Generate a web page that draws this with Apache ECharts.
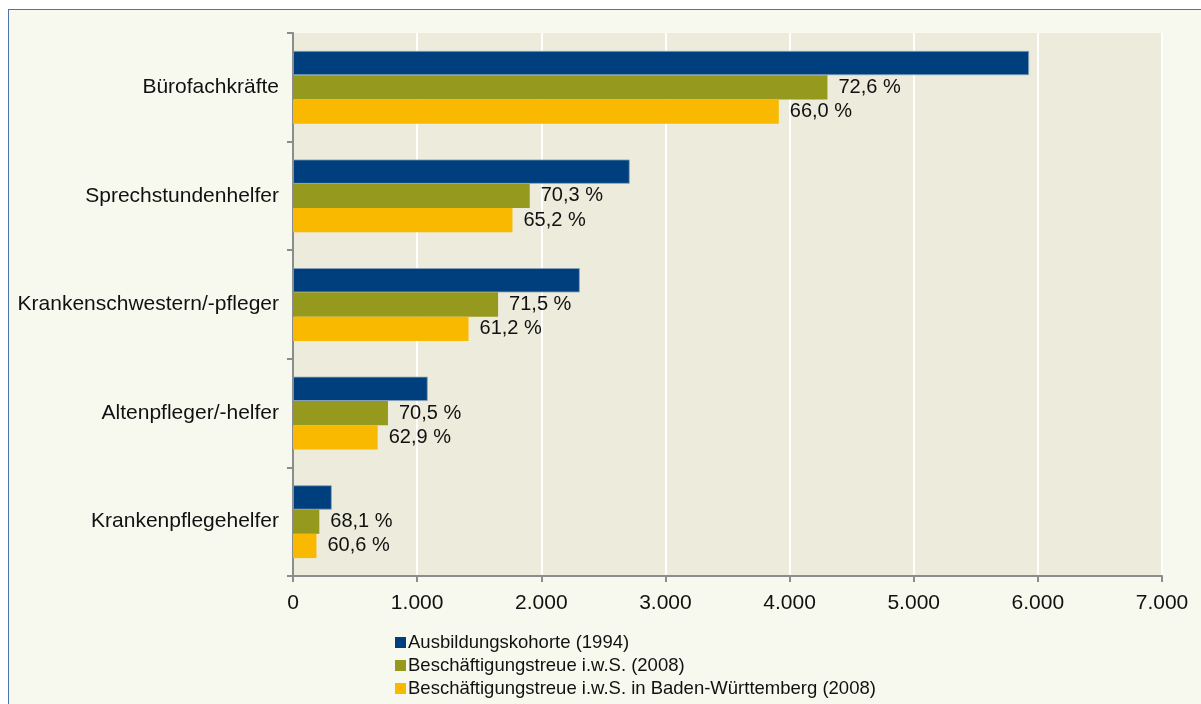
<!DOCTYPE html>
<html><head><meta charset="utf-8">
<script src="https://cdn.jsdelivr.net/npm/echarts@6/dist/echarts.min.js"></script>
<style>
html,body{margin:0;padding:0;background:#fff;}
#frame{position:absolute;left:8px;top:9px;width:1200px;height:700px;border:1px solid #4f72ad;background:#f8f9ee;box-sizing:border-box;}
#c{position:absolute;left:0;top:0;width:1201px;height:704px;}
</style></head>
<body>
<div id="frame"></div>
<div id="c"></div>
<script>
const categories = ['Bürofachkräfte','Sprechstundenhelfer','Krankenschwestern/-pfleger','Altenpfleger/-helfer','Krankenpflegehelfer'];
const seriesNames = ['Ausbildungskohorte (1994)','Beschäftigungstreue i.w.S. (2008)','Beschäftigungstreue i.w.S. in Baden-Württemberg (2008)'];
const kohorte = [5929, 2712, 2310, 1085, 312];
const treue = [4305, 1907, 1652, 765, 212];
const treueBW = [3913, 1768, 1414, 682, 189];
const treuePct = ['72,6 %','70,3 %','71,5 %','70,5 %','68,1 %'];
const treueBWPct = ['66,0 %','65,2 %','61,2 %','62,9 %','60,6 %'];
const xTicks = ['0','1.000','2.000','3.000','4.000','5.000','6.000','7.000'];

const chart = echarts.init(document.getElementById('c'), null, {renderer:'canvas'});
const font = 'Liberation Sans, Arial, sans-serif';
const lbl = (arr) => ({show:true, position:'right', distance:11, color:'#111', fontFamily:font, fontSize:20, formatter: p => arr[p.dataIndex]});
chart.setOption({
  animation:false,
  backgroundColor:'transparent',
  grid:{left:293, right:39, top:33, bottom:128, containLabel:false, show:true, backgroundColor:'#ecebdc', borderWidth:0},
  legend:{orient:'vertical', left:390, top:628, itemWidth:11, itemHeight:11, itemGap:4, icon:'rect',
    itemStyle:{borderWidth:0},
    textStyle:{fontFamily:font, fontSize:18.5, color:'#111', padding:[0,0,0,-3]}, data:seriesNames},
  xAxis:{type:'value', min:0, max:7000, interval:1000,
    axisLine:{show:true, lineStyle:{color:'#8c8c8c', width:2}},
    axisTick:{show:true, length:6, lineStyle:{color:'#8c8c8c', width:2}},
    splitLine:{show:true, lineStyle:{color:'#ffffff', width:2}},
    axisLabel:{fontFamily:font, fontSize:21, color:'#111', margin:17, formatter: (v) => xTicks[Math.round(v/1000)]}},
  yAxis:{type:'category', data:categories, inverse:true,
    axisLine:{show:true, lineStyle:{color:'#8c8c8c', width:2}},
    axisTick:{show:true, length:6, lineStyle:{color:'#8c8c8c', width:2}},
    axisLabel:{fontFamily:font, fontSize:21, color:'#111', margin:14}},
  series:[
    {name:seriesNames[0], type:'bar', data:kohorte, barGap:'0%', barCategoryGap:'33%', itemStyle:{color:'#003f7d', borderColor:'#8aa3bd', borderWidth:0.8}},
    {name:seriesNames[1], type:'bar', data:treue, itemStyle:{color:'#959a1f'}, label:lbl(treuePct)},
    {name:seriesNames[2], type:'bar', data:treueBW, itemStyle:{color:'#f9b900'}, label:lbl(treueBWPct)}
  ]
});
</script>
</body></html>
